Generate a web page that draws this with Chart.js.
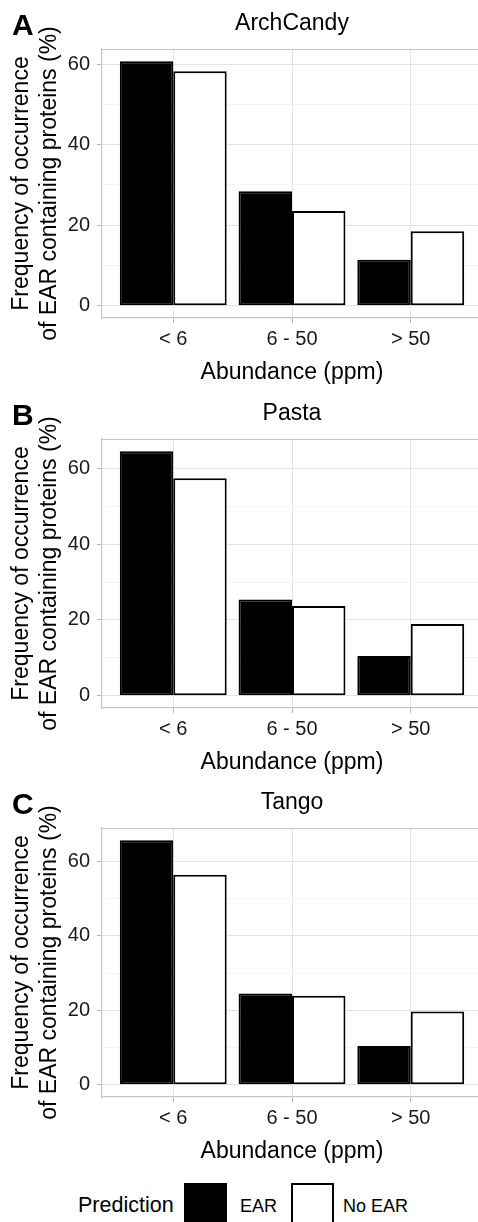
<!DOCTYPE html>
<html lang="en">
<head>
  <meta charset="UTF-8" />
  <title>EAR frequency by abundance</title>
  <script src="https://cdn.jsdelivr.net/npm/chart.js@4"></script>
  <style>
    body {
      margin: 0;
      background: #fff;
      width: 478px;
      height: 1222px;
      overflow: hidden;
      position: relative;
      font-family: 'Liberation Sans', Arial, sans-serif;
      color: #000;
    }

    .panel {
      position: absolute;
      left: 0;
      width: 478px;
      height: 390px;
      overflow: hidden;
    }

    .panel canvas {
      position: absolute;
      left: 0;
      top: 0;
    }

    .tag {
      position: absolute;
      left: 12px;
      top: 10px;
      font-size: 30px;
      font-weight: bold;
      line-height: 30px;
    }

    .legend-title {
      position: absolute;
      left: 78px;
      top: 1194px;
      font-size: 21.5px;
      line-height: 22px;
    }

    .legend-key {
      position: absolute;
      top: 1183px;
      width: 43px;
      height: 50px;
      box-sizing: border-box;
      border: 2px solid #000;
    }

    .legend-label {
      position: absolute;
      top: 1197px;
      font-size: 18px;
      line-height: 18px;
    }
  </style>
</head>
<body>
  <div class="panel" style="top: 0px;"><canvas id="chartA" width="484" height="390"></canvas><span class="tag">A</span></div>
  <div class="panel" style="top: 390px;"><canvas id="chartB" width="484" height="390"></canvas><span class="tag">B</span></div>
  <div class="panel" style="top: 779px;"><canvas id="chartC" width="484" height="390"></canvas><span class="tag">C</span></div>

  <div id="legend"></div>

  <script>
    // abundance bins and prediction groups
    const categories = ['< 6', '6 - 50', '> 50'];
    const seriesNames = ['EAR', 'No EAR'];
    const seriesColors = ['#000000', '#ffffff'];

    const panelTitles = ['ArchCandy', 'Pasta', 'Tango'];
    const panelTags = ['A', 'B', 'C'];

    // frequency of occurrence (%) per bin
    const archCandyEAR = [60.7, 28.4, 11.4];
    const archCandyNoEAR = [58.2, 23.5, 18.5];
    const pastaEAR = [64.5, 25.4, 10.5];
    const pastaNoEAR = [57.4, 23.7, 18.9];
    const tangoEAR = [65.7, 24.5, 10.4];
    const tangoNoEAR = [56.4, 23.9, 19.7];

    const yMajorTicks = [0, 20, 40, 60];
    const yMinorTicks = [10, 30, 50];

    const panelValues = [
      [archCandyEAR, archCandyNoEAR],
      [pastaEAR, pastaNoEAR],
      [tangoEAR, tangoNoEAR]
    ];

    Chart.defaults.font.family = "'Liberation Sans', Arial, sans-serif";

    const BORDER = '#c6c6c6';
    const GRID_MAJOR = '#e3e3e3';
    const GRID_MINOR = '#f1f1f1';
    const TICK_MARK = '#b3b3b3';

    // top panel border (the axes draw the left and bottom ones)
    const panelBorder = {
      id: 'panelBorder',
      beforeDatasetsDraw(chart) {
        const { ctx, chartArea: a } = chart;
        ctx.save();
        ctx.strokeStyle = BORDER;
        ctx.lineWidth = 1.2;
        ctx.beginPath();
        ctx.moveTo(a.left, a.top + 0.5);
        ctx.lineTo(a.right, a.top + 0.5);
        ctx.stroke();
        ctx.restore();
      }
    };

    function makePanel(canvasId, title, values) {
      const maxVal = Math.max(...values.flat());
      const pad = maxVal * 0.05;

      new Chart(document.getElementById(canvasId), {
        type: 'bar',
        data: {
          datasets: values.map((vals, s) => ({
            label: seriesNames[s],
            data: categories.map((c, i) => ({ x: i + 1, y: vals[i] })),
            backgroundColor: seriesColors[s],
            borderColor: '#000',
            borderWidth: 2,
            borderSkipped: false,
            categoryPercentage: 0.9,
            barPercentage: 1.0
          }))
        },
        options: {
          responsive: false,
          animation: false,
          devicePixelRatio: 1,
          layout: { padding: { left: 0, right: 2, top: 0, bottom: 0 } },
          plugins: {
            legend: { display: false },
            tooltip: { enabled: false },
            title: {
              display: true,
              text: title,
              fullSize: false,
              color: '#000',
              font: { size: 23, weight: 'normal', lineHeight: 1.2 },
              padding: { top: 10, bottom: 11.4 }
            }
          },
          scales: {
            x: {
              type: 'linear',
              min: 0.4,
              max: 3.6,
              offset: false,
              afterBuildTicks: scale => {
                scale.ticks = categories.map((c, i) => ({ value: i + 1 }));
              },
              afterFit: scale => { scale.height = 72; },
              grid: {
                offset: false,
                color: GRID_MAJOR,
                lineWidth: 1,
                tickLength: 5,
                tickColor: TICK_MARK
              },
              border: { display: true, color: BORDER, width: 1.2 },
              ticks: {
                autoSkip: false,
                maxRotation: 0,
                padding: 4,
                color: '#1a1a1a',
                font: { size: 20 },
                callback: v => categories[v - 1]
              },
              title: {
                display: true,
                text: 'Abundance (ppm)',
                color: '#000',
                font: { size: 23, lineHeight: 1.2 },
                padding: { top: 0, bottom: 4 }
              }
            },
            y: {
              min: -pad,
              max: maxVal + pad,
              afterBuildTicks: scale => {
                scale.ticks = yMajorTicks.concat(yMinorTicks)
                  .sort((a, b) => a - b)
                  .map(v => ({ value: v }));
              },
              afterFit: scale => { scale.width = 102; },
              grid: {
                color: c => yMajorTicks.includes(c.tick.value) ? GRID_MAJOR : GRID_MINOR,
                lineWidth: c => yMajorTicks.includes(c.tick.value) ? 1 : 0.8,
                tickLength: 5,
                tickColor: c => yMajorTicks.includes(c.tick.value) ? TICK_MARK : 'rgba(0,0,0,0)'
              },
              border: { display: true, color: BORDER, width: 1.2 },
              ticks: {
                padding: 7,
                color: '#1a1a1a',
                font: { size: 20 },
                callback: v => yMajorTicks.includes(v) ? String(v) : ''
              },
              title: {
                display: true,
                text: ['Frequency of occurrence', 'of EAR containing proteins (%)'],
                color: '#000',
                font: { size: 23, lineHeight: 1.2 },
                padding: { top: 8, bottom: 0 }
              }
            }
          }
        },
        plugins: [panelBorder]
      });
    }

    ['chartA', 'chartB', 'chartC'].forEach((id, i) => makePanel(id, panelTitles[i], panelValues[i]));

    // legend along the bottom
    const legend = document.getElementById('legend');
    const keyLeft = [184, 291];
    const labelLeft = [240, 343];
    legend.innerHTML = '<span class="legend-title">Prediction</span>' +
      seriesNames.map((name, s) =>
        `<div class="legend-key" style="left:${keyLeft[s]}px;background:${seriesColors[s]};"></div>` +
        `<span class="legend-label" style="left:${labelLeft[s]}px;">${name}</span>`
      ).join('');
  </script>
</body>
</html>
